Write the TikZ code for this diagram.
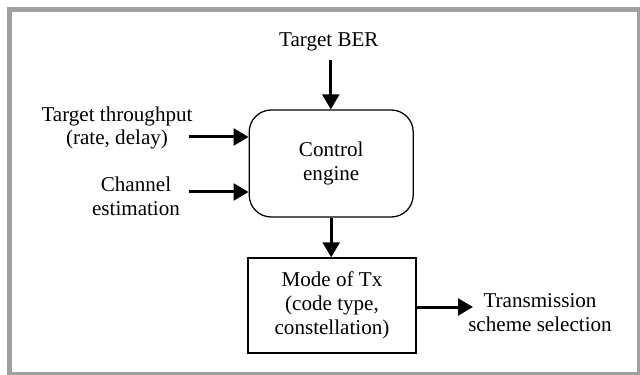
\documentclass[tikz,border=0pt]{standalone}
\usepackage{fontspec}
\setmainfont{Liberation Serif}
\newfontfamily\diagfont{Liberation Serif}
\usetikzlibrary{arrows.meta, positioning}

\begin{document}
\begin{tikzpicture}[
    block/.style={rectangle, draw=black, line width=0.9pt, text centered, align=center, font=\diagfont\fontsize{15}{17}\selectfont},
    engbox/.style={block, rounded corners=0.55cm, minimum width=4.1cm, minimum height=2.675cm},
    modebox/.style={block, minimum width=4.2cm, minimum height=2.375cm},
    label/.style={align=center, font=\diagfont\fontsize{15}{17}\selectfont},
    flow/.style={-{Triangle[length=0.375cm, width=0.42cm]}, line width=0.075cm}
]

    % Frame
    \useasboundingbox (0, 0) rectangle (16, 9.35);
    \draw[line width=0.125cm, gray!75] (0.2375, 9.1125) rectangle (15.99, -0.01);

    % Blocks
    \node[engbox] (engine) at (8.28, 5.2625) {Control\\engine};
    \node[modebox] (mode) at (8.3, 1.7125) {Mode of Tx\\(code type,\\constellation)};

    % Labels
    \node[label] (ber) at (8.22, 8.3) {Target BER};
    \node[label] (thr) at (2.925, 6.15) {Target throughput\\(rate, delay)};
    \node[label] (chan) at (3.4, 4.45) {Channel\\estimation};
    \node[label] (sel) at (13.5, 1.525) {Transmission\\scheme selection};

    % Free ends
    \coordinate (thrin) at (4.725, 5.925);
    \coordinate (chanin) at (4.725, 4.55);
    \coordinate (berin) at (8.27, 7.85);
    \coordinate (selout) at (11.825, 1.675);

    % Connectors
    \draw[flow] (berin) -- (berin |- engine.north);
    \draw[flow] (thrin) -- (thrin -| engine.west);
    \draw[flow] (chanin) -- (chanin -| engine.west);
    \draw[flow] (engine.south) -- (engine.south |- mode.north);
    \draw[flow] (mode.east |- selout) -- (selout);

\end{tikzpicture}
\end{document}
